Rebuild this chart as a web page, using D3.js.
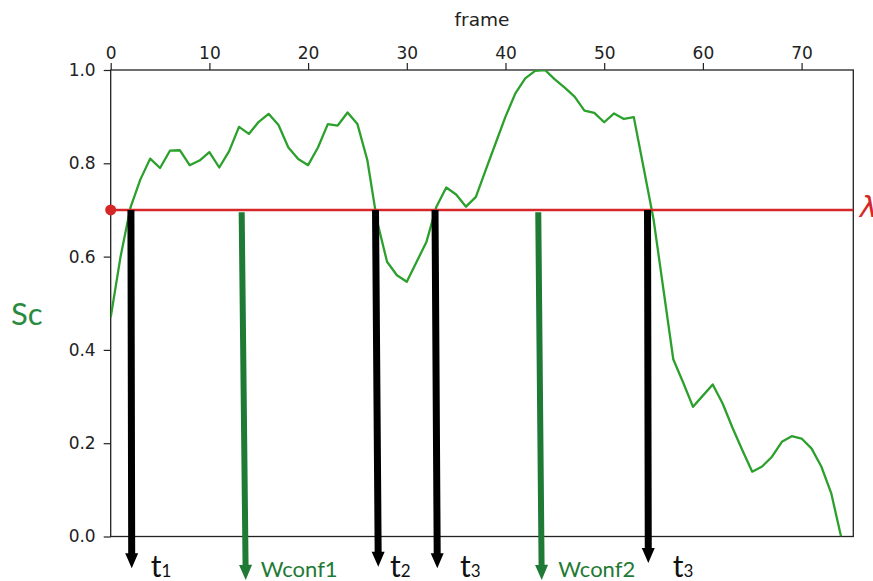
<!DOCTYPE html>
<html>
<head>
<meta charset="utf-8">
<script src="https://cdn.jsdelivr.net/npm/d3@7"></script>
<style>
  body { margin: 0; background: #fff; }
  svg { display: block; }
</style>
</head>
<body>
<svg id="chart" width="873" height="581"></svg>
<script>
// frame index and the Sc score
let frames = [0,1,2,3,4,5,6,7,8,9,10,11,12,13,14,15,16,17,18,19,20,21,22,23,24,25,26,27,28,29,
  30,31,32,33,34,35,36,37,38,39,40,41,42,43,44,45,46,47,48,49,50,51,52,53,54,55,56,57,58,59,
  60,61,62,63,64,65,66,67,68,69,70,71,72,73,74];
let scores = [0.47,0.60,0.705,0.765,0.81,0.79,0.827,0.828,0.796,0.806,
  0.824,0.791,0.826,0.878,0.863,0.889,0.906,0.882,0.834,0.809,
  0.796,0.834,0.884,0.881,0.909,0.884,0.807,0.675,0.589,0.56,
  0.546,0.589,0.632,0.707,0.748,0.733,0.707,0.728,0.786,0.843,
  0.90,0.95,0.982,0.998,1.0,0.98,0.962,0.943,0.913,0.908,
  0.888,0.907,0.895,0.899,0.79,0.68,0.53,0.38,0.33,0.278,
  0.302,0.326,0.285,0.233,0.185,0.139,0.150,0.171,0.203,0.215,
  0.21,0.189,0.15,0.093,0.0];
let threshold = 0.7;
let xTicks = [0,10,20,30,40,50,60,70];
let yTicks = [0.0,0.2,0.4,0.6,0.8,1.0];

// annotation arrows (frame / score units)
let arrowKind = ["t","w","t","t","w","t"];
let arrowX0 = [2.05,13.27,26.83,32.86,43.32,54.39];
let arrowX1 = [2.13,13.68,27.11,33.09,43.67,54.47];
let arrowY0 = [0.7,0.695,0.7,0.7,0.695,0.7];
let arrowY1 = [-0.068,-0.093,-0.065,-0.068,-0.093,-0.057];
let labelMain = ["t","Wconf1","t","t","Wconf2","t"];
let labelSub = ["1","","2","3","","3"];
let labelX = [4.05,15.2,28.3,35.4,45.35,56.94];
let labelY = -0.086;

let svg = d3.select("#chart");
let margin = {top: 70, right: 19.7, bottom: 44.5, left: 110.7};
let width = 873 - margin.left - margin.right;
let height = 581 - margin.top - margin.bottom;

let x = d3.scaleLinear().domain([0, 75.24]).range([margin.left, margin.left + width]);
let y = d3.scaleLinear().domain([0, 1]).range([margin.top + height, margin.top]);

let green = "#2ca02c";
let red = "#d62728";
let darkGreen = "#1e7a34";

svg.append("defs").append("clipPath").attr("id", "plotclip")
  .append("rect")
  .attr("x", margin.left).attr("y", margin.top)
  .attr("width", width).attr("height", height);

// axes
let xAxis = d3.axisTop(x).tickValues(xTicks).tickSize(7).tickPadding(4).tickFormat(d3.format("d"));
let yAxis = d3.axisLeft(y).tickValues(yTicks).tickSize(7).tickPadding(8).tickFormat(d3.format(".1f"));

let xg = svg.append("g").attr("transform", "translate(0," + margin.top + ")").call(xAxis);
let yg = svg.append("g").attr("transform", "translate(" + margin.left + ",0)").call(yAxis);
[xg, yg].forEach(function(g) {
  g.select(".domain").remove();
  g.selectAll("line").attr("stroke", "#222").attr("stroke-width", 1.2);
  g.selectAll("text").attr("fill", "#222")
    .style("font-family", "DejaVu Sans").style("font-size", "17px");
});

// frame
svg.append("rect")
  .attr("x", margin.left).attr("y", margin.top)
  .attr("width", width).attr("height", height)
  .attr("fill", "none").attr("stroke", "#222").attr("stroke-width", 1.3);

svg.append("text")
  .attr("x", margin.left + width / 2).attr("y", 26)
  .attr("text-anchor", "middle")
  .style("font-family", "DejaVu Sans").style("font-size", "18.5px")
  .attr("fill", "#222")
  .text("frame");

svg.append("text")
  .attr("x", 11).attr("y", 325)
  .style("font-family", "Lato").style("font-size", "31px")
  .attr("fill", "#2a8a3e")
  .text("Sc");

// score curve
let line = d3.line()
  .x(function(d, i) { return x(frames[i]); })
  .y(function(d) { return y(d); });

svg.append("path")
  .datum(scores)
  .attr("clip-path", "url(#plotclip)")
  .attr("d", line)
  .attr("fill", "none")
  .attr("stroke", green)
  .attr("stroke-width", 2.3)
  .attr("stroke-linejoin", "round");

// threshold
svg.append("line")
  .attr("x1", x(0)).attr("x2", x(75.24))
  .attr("y1", y(threshold)).attr("y2", y(threshold))
  .attr("stroke", red).attr("stroke-width", 2.6);

svg.append("circle")
  .attr("cx", x(0)).attr("cy", y(threshold)).attr("r", 5.5)
  .attr("fill", red);

svg.append("text")
  .attr("x", 860).attr("y", 217)
  .style("font-family", "DejaVu Sans").style("font-size", "29px").style("font-style", "italic")
  .attr("fill", red)
  .text("λ");

// arrows
let arrowG = svg.append("g");
arrowKind.forEach(function(k, i) {
  let x0 = x(arrowX0[i]), y0 = y(arrowY0[i]);
  let x1 = x(arrowX1[i]), y1 = y(arrowY1[i]);
  let len = Math.hypot(x1 - x0, y1 - y0);
  let ux = (x1 - x0) / len, uy = (y1 - y0) / len;
  let nx = -uy, ny = ux;
  let sw = k === "t" ? 3.5 : 3;
  let hw = 6.5, hl = 15;
  let bx = x1 - ux * hl, by = y1 - uy * hl;
  let pts = [
    [x0 + nx * sw, y0 + ny * sw],
    [bx + nx * sw, by + ny * sw],
    [bx + nx * hw, by + ny * hw],
    [x1, y1],
    [bx - nx * hw, by - ny * hw],
    [bx - nx * sw, by - ny * sw],
    [x0 - nx * sw, y0 - ny * sw]
  ];
  arrowG.append("path")
    .attr("d", "M" + pts.map(function(p) { return p.join(","); }).join("L") + "Z")
    .attr("fill", k === "t" ? "#000" : darkGreen);

  let t = svg.append("text")
    .attr("x", x(labelX[i])).attr("y", y(labelY))
    .style("font-family", "Lato")
    .attr("fill", k === "t" ? "#111" : darkGreen);
  if (k === "t") {
    t.append("tspan").style("font-size", "30px").text(labelMain[i]);
    t.append("tspan").style("font-size", "17px").text(labelSub[i]);
  } else {
    t.style("font-size", "22px").text(labelMain[i]);
  }
});
</script>
</body>
</html>
